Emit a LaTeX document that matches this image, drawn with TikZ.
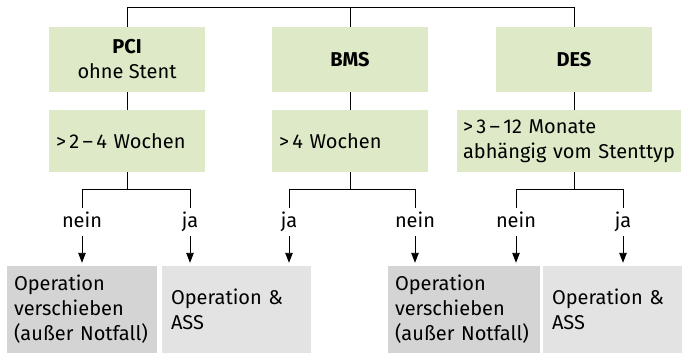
\documentclass[tikz,border=0pt]{standalone}
\usepackage{fontspec}
\setmainfont{Fira Sans}
\usetikzlibrary{arrows.meta}
\definecolor{boxgreen}{RGB}{221,233,199}
\definecolor{darkgraybox}{RGB}{212,212,212}
\definecolor{lightgraybox}{RGB}{227,227,227}
\begin{document}
\begin{tikzpicture}[x=1pt,y=-1pt,
  every node/.style={font=\fontsize{20}{25}\selectfont, inner sep=0pt},
  greenbox/.style={fill=boxgreen, draw=none},
  darkbox/.style={fill=darkgraybox, draw=none, align=left},
  lightbox/.style={fill=lightgraybox, draw=none, align=left},
  lbl/.style={minimum height=28pt, text height=14pt, text depth=2pt},
  conn/.style={line width=0.9pt, black},
  arr/.style={conn, -{Triangle[width=7.5pt,length=10pt]}, shorten >=3pt}]
\useasboundingbox (0,0) rectangle (682,355);
% row 1
\node[greenbox, minimum width=156pt, minimum height=65pt, align=center] (pci) at (127,59.5) {\textbf{PCI}\\ohne Stent};
\node[greenbox, minimum width=156pt, minimum height=65pt, align=center] (bms) at (350,59.5) {\textbf{BMS}};
\node[greenbox, minimum width=156pt, minimum height=65pt, align=center] (des) at (574,59.5) {\textbf{DES}};
% row 2
\node[greenbox, minimum width=156pt, minimum height=62pt, text width=142pt, align=left] (pcit) at (127,141) {>\,2\,–\,4 Wochen};
\node[greenbox, minimum width=156pt, minimum height=62pt, text width=142pt, align=left] (bmst) at (350,141) {>\,4 Wochen};
\node[greenbox, minimum width=224pt, minimum height=62pt, text width=212pt, align=left] (dest) at (569,141) {>\,3\,–\,12 Monate\\abhängig vom Stenttyp};
% labels
\node[lbl] (nein1) at (82,222) {nein};
\node[lbl] (ja1) at (190,222) {ja};
\node[lbl] (ja2) at (289,222) {ja};
\node[lbl] (nein2) at (415,222) {nein};
\node[lbl] (nein3) at (516,222) {nein};
\node[lbl] (ja3) at (623,222) {ja};
% bottom boxes
\node[darkbox, minimum width=150pt, minimum height=87pt, text width=136pt] (op1) at (82,309.5) {Operation\\verschieben\\(außer Notfall)};
\node[lightbox, minimum width=149pt, minimum height=87pt, text width=131pt] (ass1) at (236.5,309.5) {Operation \&\\ASS};
\node[darkbox, minimum width=152pt, minimum height=87pt, text width=138pt] (op2) at (464,309.5) {Operation\\verschieben\\(außer Notfall)};
\node[lightbox, minimum width=139pt, minimum height=87pt, text width=121pt] (ass2) at (612.5,309.5) {Operation \&\\ASS};
% connectors
\coordinate (tl) at (0,7);
\coordinate (k1) at (0,189);
\draw[conn] (pci.north) -- (pci.north |- tl) -- (des.north |- tl) -- (des.north);
\draw[conn] (bms.north) -- (bms.north |- tl);
\draw[conn] (pci.south) -- (pcit.north);
\draw[conn] (bms.south) -- (bmst.north);
\draw[conn] (des.south) -- (des.south |- dest.north);
\draw[conn] (pcit.south) -- (pcit.south |- k1);
\draw[conn] (bmst.south) -- (bmst.south |- k1);
\draw[conn] (des.south |- dest.south) -- (des.south |- k1);
\draw[conn] (nein1.north) |- (ja1.north |- k1) -- (ja1.north);
\draw[conn] (ja2.north) |- (nein2.north |- k1) -- (nein2.north);
\draw[conn] (nein3.north) |- (ja3.north |- k1) -- (ja3.north);
\draw[arr] (nein1.south) -- (nein1.south |- op1.north);
\draw[arr] (ja1.south) -- (ja1.south |- ass1.north);
\draw[arr] (ja2.south) -- (ja2.south |- ass1.north);
\draw[arr] (nein2.south) -- (nein2.south |- op2.north);
\draw[arr] (nein3.south) -- (nein3.south |- op2.north);
\draw[arr] (ja3.south) -- (ja3.south |- ass2.north);
\end{tikzpicture}
\end{document}
